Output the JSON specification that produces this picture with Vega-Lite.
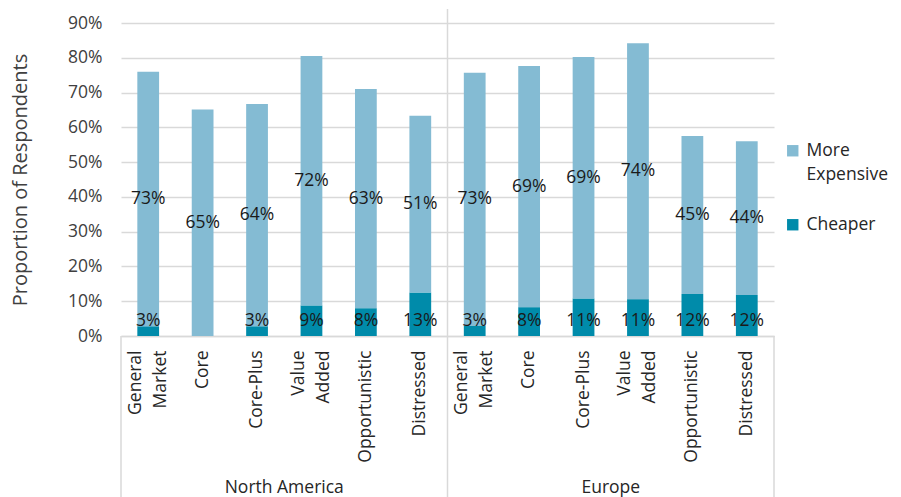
{
  "$schema": "https://vega.github.io/schema/vega-lite/v6.json",
  "width": 653,
  "height": 313,
  "autosize": {"type": "none"},
  "padding": {"left": 121, "top": 23, "right": 127, "bottom": 161},
  "background": "white",
  "config": {
    "font": "Open Sans",
    "view": {"stroke": null},
    "text": {"font": "Open Sans"},
    "style": {"guide-label": {"lineHeight": 24}},
    "axisY": {
      "titleFontSize": 20,
      "titleFontWeight": "normal",
      "titleColor": "#404040",
      "titlePadding": 37,
      "labelFontSize": 17.5,
      "labelColor": "#404040",
      "labelPadding": 19,
      "labelOverlap": false,
      "domain": false,
      "ticks": false,
      "gridColor": "#d9d9d9",
      "gridWidth": 1.5
    }
  },
  "data": {
    "values": [
      {"id": "NA|General Market", "region": "North America", "series": "Cheaper", "value": 0.028},
      {"id": "NA|General Market", "region": "North America", "series": "More Expensive", "value": 0.732},
      {"id": "NA|Core", "region": "North America", "series": "Cheaper", "value": 0},
      {"id": "NA|Core", "region": "North America", "series": "More Expensive", "value": 0.651},
      {"id": "NA|Core-Plus", "region": "North America", "series": "Cheaper", "value": 0.028},
      {"id": "NA|Core-Plus", "region": "North America", "series": "More Expensive", "value": 0.639},
      {"id": "NA|Value Added", "region": "North America", "series": "Cheaper", "value": 0.088},
      {"id": "NA|Value Added", "region": "North America", "series": "More Expensive", "value": 0.717},
      {"id": "NA|Opportunistic", "region": "North America", "series": "Cheaper", "value": 0.08},
      {"id": "NA|Opportunistic", "region": "North America", "series": "More Expensive", "value": 0.63},
      {"id": "NA|Distressed", "region": "North America", "series": "Cheaper", "value": 0.125},
      {"id": "NA|Distressed", "region": "North America", "series": "More Expensive", "value": 0.508},
      {"id": "EU|General Market", "region": "Europe", "series": "Cheaper", "value": 0.029},
      {"id": "EU|General Market", "region": "Europe", "series": "More Expensive", "value": 0.728},
      {"id": "EU|Core", "region": "Europe", "series": "Cheaper", "value": 0.083},
      {"id": "EU|Core", "region": "Europe", "series": "More Expensive", "value": 0.693},
      {"id": "EU|Core-Plus", "region": "Europe", "series": "Cheaper", "value": 0.108},
      {"id": "EU|Core-Plus", "region": "Europe", "series": "More Expensive", "value": 0.694},
      {"id": "EU|Value Added", "region": "Europe", "series": "Cheaper", "value": 0.106},
      {"id": "EU|Value Added", "region": "Europe", "series": "More Expensive", "value": 0.736},
      {"id": "EU|Opportunistic", "region": "Europe", "series": "Cheaper", "value": 0.121},
      {"id": "EU|Opportunistic", "region": "Europe", "series": "More Expensive", "value": 0.454},
      {"id": "EU|Distressed", "region": "Europe", "series": "Cheaper", "value": 0.118},
      {"id": "EU|Distressed", "region": "Europe", "series": "More Expensive", "value": 0.442}
    ]
  },
  "encoding": {
    "x": {
      "field": "id",
      "type": "nominal",
      "scale": {
        "domain": ["NA|General Market", "NA|Core", "NA|Core-Plus", "NA|Value Added", "NA|Opportunistic", "NA|Distressed",
                   "EU|General Market", "EU|Core", "EU|Core-Plus", "EU|Value Added", "EU|Opportunistic", "EU|Distressed"],
        "paddingInner": 0,
        "paddingOuter": 0
      },
      "axis": {
        "title": null,
        "labelAngle": 270,
        "labelAlign": "right",
        "labelBaseline": "middle",
        "labelExpr": "split(split(datum.value, '|')[1], ' ')",
        "labelOffset": {"condition": {"test": "indexof(datum.value, ' ') >= 0", "value": -12.5}, "value": 0},
        "labelFontSize": 17.5,
        "labelColor": "#262626",
        "labelLineHeight": 25,
        "labelPadding": 14,
        "labelOverlap": false,
        "ticks": false,
        "domainColor": "#d9d9d9",
        "domainWidth": 1.5,
        "grid": false
      }
    }
  },
  "layer": [
    {
      "mark": {"type": "bar", "width": {"band": 0.4}},
      "encoding": {
        "y": {
          "field": "value",
          "type": "quantitative",
          "stack": "zero",
          "scale": {"domain": [0, 0.9], "nice": false},
          "axis": {"title": "Proportion of Respondents", "values": [0, 0.1, 0.2, 0.3, 0.4, 0.5, 0.6, 0.7, 0.8, 0.9], "format": ".0%"}
        },
        "color": {
          "field": "series",
          "type": "nominal",
          "scale": {"domain": ["More Expensive", "Cheaper"], "range": ["#84BBD3", "#008BAA"]},
          "legend": {
            "title": null,
            "orient": "none",
            "legendX": 663,
            "legendY": 119,
            "symbolType": "square",
            "symbolSize": 130,
            "symbolStrokeWidth": 0,
            "labelFontSize": 17.5,
            "labelColor": "#262626",
            "labelOffset": 5,
            "rowPadding": 31,
            "labelExpr": "datum.label == 'More Expensive' ? ['More', 'Expensive'] : datum.label"
          }
        },
        "order": {"field": "series", "sort": "ascending"}
      }
    },
    {
      "transform": [
        {"stack": "value", "groupby": ["id"], "sort": [{"field": "series", "order": "ascending"}], "as": ["v0", "v1"]},
        {"filter": "datum.series == 'More Expensive'"},
        {"calculate": "(datum.v0 + datum.v1) / 2", "as": "mid"}
      ],
      "mark": {"type": "text", "fontSize": 17.5, "color": "#1a1a1a", "baseline": "middle"},
      "encoding": {
        "y": {"field": "mid", "type": "quantitative", "axis": {"title": "Proportion of Respondents", "values": [0, 0.1, 0.2, 0.3, 0.4, 0.5, 0.6, 0.7, 0.8, 0.9], "format": ".0%"}},
        "text": {"field": "value", "type": "quantitative", "format": ".0%"}
      }
    },
    {
      "transform": [
        {"filter": "datum.series == 'Cheaper' && datum.value > 0"}
      ],
      "mark": {"type": "text", "fontSize": 17.5, "color": "#1a1a1a", "baseline": "alphabetic", "dy": -10},
      "encoding": {
        "y": {"datum": 0, "type": "quantitative", "axis": {"title": "Proportion of Respondents", "values": [0, 0.1, 0.2, 0.3, 0.4, 0.5, 0.6, 0.7, 0.8, 0.9], "format": ".0%"}},
        "text": {"field": "value", "type": "quantitative", "format": ".0%"}
      }
    },
    {
      "data": {"values": [{"id": "EU|General Market"}]},
      "mark": {"type": "rule", "color": "#d9d9d9", "strokeWidth": 1.5},
      "encoding": {
        "x": {"field": "id", "type": "nominal", "bandPosition": 0},
        "y": {"datum": 0.94, "type": "quantitative", "axis": {"title": "Proportion of Respondents", "values": [0, 0.1, 0.2, 0.3, 0.4, 0.5, 0.6, 0.7, 0.8, 0.9], "format": ".0%"}},
        "y2": {"datum": -0.463}
      }
    },
    {
      "data": {"values": [{"id": "NA|General Market"}]},
      "mark": {"type": "rule", "color": "#d9d9d9", "strokeWidth": 1.5},
      "encoding": {
        "x": {"field": "id", "type": "nominal", "bandPosition": 0},
        "y": {"datum": 0, "type": "quantitative", "axis": {"title": "Proportion of Respondents", "values": [0, 0.1, 0.2, 0.3, 0.4, 0.5, 0.6, 0.7, 0.8, 0.9], "format": ".0%"}},
        "y2": {"datum": -0.463}
      }
    },
    {
      "data": {"values": [{"id": "EU|Distressed"}]},
      "mark": {"type": "rule", "color": "#d9d9d9", "strokeWidth": 1.5},
      "encoding": {
        "x": {"field": "id", "type": "nominal", "bandPosition": 1},
        "y": {"datum": 0, "type": "quantitative", "axis": {"title": "Proportion of Respondents", "values": [0, 0.1, 0.2, 0.3, 0.4, 0.5, 0.6, 0.7, 0.8, 0.9], "format": ".0%"}},
        "y2": {"datum": -0.463}
      }
    },
    {
      "data": {"values": [{"id": "NA|Value Added", "region": "North America"}, {"id": "EU|Value Added", "region": "Europe"}]},
      "mark": {"type": "text", "fontSize": 17.5, "color": "#262626", "baseline": "middle", "dy": 152},
      "encoding": {
        "x": {"field": "id", "type": "nominal", "bandPosition": 0},
        "y": {"datum": 0, "type": "quantitative", "axis": {"title": "Proportion of Respondents", "values": [0, 0.1, 0.2, 0.3, 0.4, 0.5, 0.6, 0.7, 0.8, 0.9], "format": ".0%"}},
        "text": {"field": "region"}
      }
    }
  ]
}
